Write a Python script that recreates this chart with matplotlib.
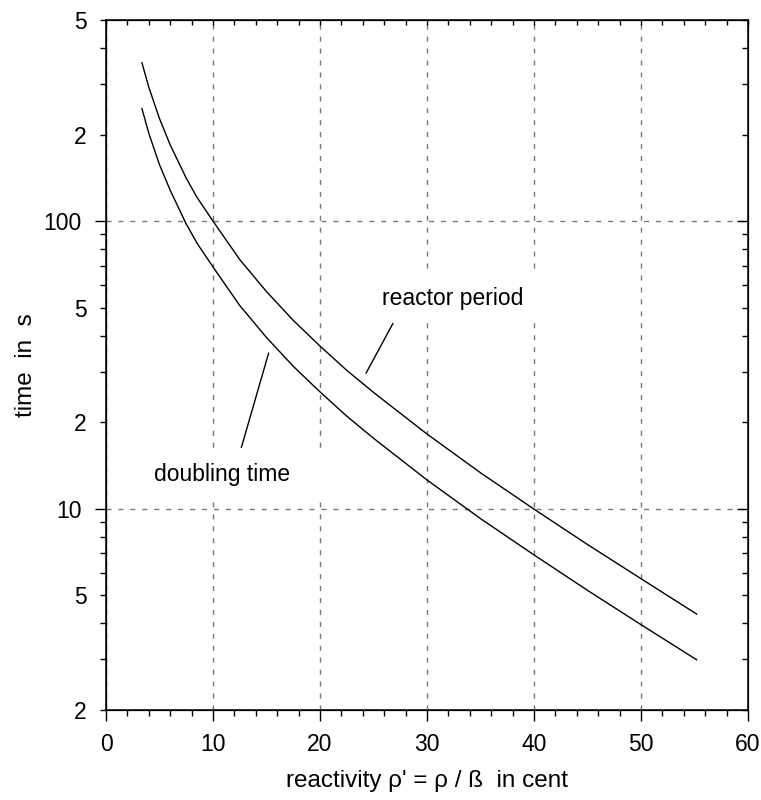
#!/usr/bin/env python

#IMPORTS---------------------------------------
import matplotlib
matplotlib.use('Agg')
from matplotlib import pyplot as plt
from matplotlib import ticker
#----------------------------------------------

#DATA -----------------------------------------
rho = [3.36, 4, 5, 6, 7.5, 8.5, 10, 12.5, 15, 17.5, 20, 22.5, 25, 30, 35, 40, 45, 50, 55.2]
period = [355, 292, 227, 184, 141, 121, 100, 73.5, 56.9, 45.2, 36.8, 30.3, 25.4,
          18.2, 13.35, 9.98, 7.52, 5.72, 4.31]
doubling = [246, 202, 157, 128, 97.7, 83.9, 69.3, 50.9, 39.4, 31.3, 25.5, 21.0, 17.6,
            12.6, 9.25, 6.92, 5.21, 3.96, 2.99]

ydecades = [10, 100]
yminor = [2, 3, 4, 5, 6, 7, 8, 9, 20, 30, 40, 50, 60, 70, 80, 90, 200, 300, 400, 500]
#----------------------------------------------

#STYLE-----------------------------------------
plt.rcParams['font.family'] = ['Liberation Sans', 'DejaVu Sans']
fs = 16.5
fslab = 17.5
gridstyle = dict(color='#777777', linestyle=(0, (3.6, 5.0)), linewidth=1.0)
#----------------------------------------------

def minor_label(v, pos):
  # only 2 and 5 of each decade get a label
  lead = int(round(v / 10 ** int(f'{v:e}'.split('e')[1])))
  return str(lead) if lead in (2, 5) else ''

fig = plt.figure(figsize=(7.61, 8.0), dpi=100)
ax = fig.add_axes([0.1393, 0.1125, 0.8436, 0.8625])

ax.plot(rho, period, 'k-', lw=1.0)
ax.plot(rho, doubling, 'k-', lw=1.0)

ax.set_yscale('log')
ax.set_xlim(0, 60)
ax.set_ylim(2, 500)

ax.xaxis.set_major_locator(ticker.MultipleLocator(10))
ax.xaxis.set_minor_locator(ticker.MultipleLocator(2))
ax.yaxis.set_major_locator(ticker.FixedLocator(ydecades))
ax.yaxis.set_major_formatter(ticker.FuncFormatter(lambda v, p: '%d' % v))
ax.yaxis.set_minor_locator(ticker.FixedLocator(yminor))
ax.yaxis.set_minor_formatter(ticker.FuncFormatter(minor_label))

ax.tick_params(which='major', direction='out', length=7.9, width=1.0, labelsize=fs,
               top=False, right=False)
ax.tick_params(which='minor', direction='out', length=4.3, width=1.0, labelsize=fs,
               top=False, right=False)
ax.tick_params(axis='x', which='both', pad=9)
ax.tick_params(axis='y', which='both', pad=9.5)

for s in ax.spines.values():
  s.set_linewidth(1.1)

ax.grid(which='major', **gridstyle)

ax.set_xlabel(r"reactivity ρ' = ρ / ß  in cent", fontsize=fslab, labelpad=10)
ax.set_ylabel('time  in  s', fontsize=fslab, labelpad=5)

#TOP AND RIGHT TICKS (inward) ------------------
axt = ax.twiny()
axt.set_xlim(0, 60)
axt.xaxis.set_major_locator(ticker.MultipleLocator(10))
axt.xaxis.set_minor_locator(ticker.MultipleLocator(2))
axt.tick_params(which='both', direction='in', length=3.6, width=1.0, labeltop=False)

axr = ax.twinx()
axr.set_yscale('log')
axr.set_ylim(2, 500)
axr.yaxis.set_major_locator(ticker.FixedLocator(ydecades))
axr.yaxis.set_minor_locator(ticker.FixedLocator(yminor))
axr.yaxis.set_major_formatter(ticker.NullFormatter())
axr.yaxis.set_minor_formatter(ticker.NullFormatter())
axr.tick_params(which='major', direction='in', length=7.9, width=1.0)
axr.tick_params(which='minor', direction='in', length=4.3, width=1.0)
#-----------------------------------------------

#LABELS ON THE CURVES---------------------------
box1 = dict(boxstyle='square,pad=0.6', fc='white', ec='none')
box2 = dict(boxstyle='square,pad=1.6', fc='white', ec='none', mutation_aspect=0.4)
ax.annotate('reactor period', xy=(24.3, 29.6), xytext=(32.4, 54.0),
            ha='center', va='center', fontsize=fs, bbox=box1, zorder=5,
            arrowprops=dict(arrowstyle='-', color='k', lw=1.0, relpos=(0.13, 0.0),
                            shrinkA=0, shrinkB=0))
ax.annotate('doubling time', xy=(15.2, 34.8), xytext=(10.84, 13.2),
            ha='center', va='center', fontsize=fs, bbox=box2, zorder=5,
            arrowprops=dict(arrowstyle='-', color='k', lw=1.0, relpos=(0.61, 1.0),
                            shrinkA=0, shrinkB=0))
#-----------------------------------------------

fig.savefig('out.png', dpi=100)
